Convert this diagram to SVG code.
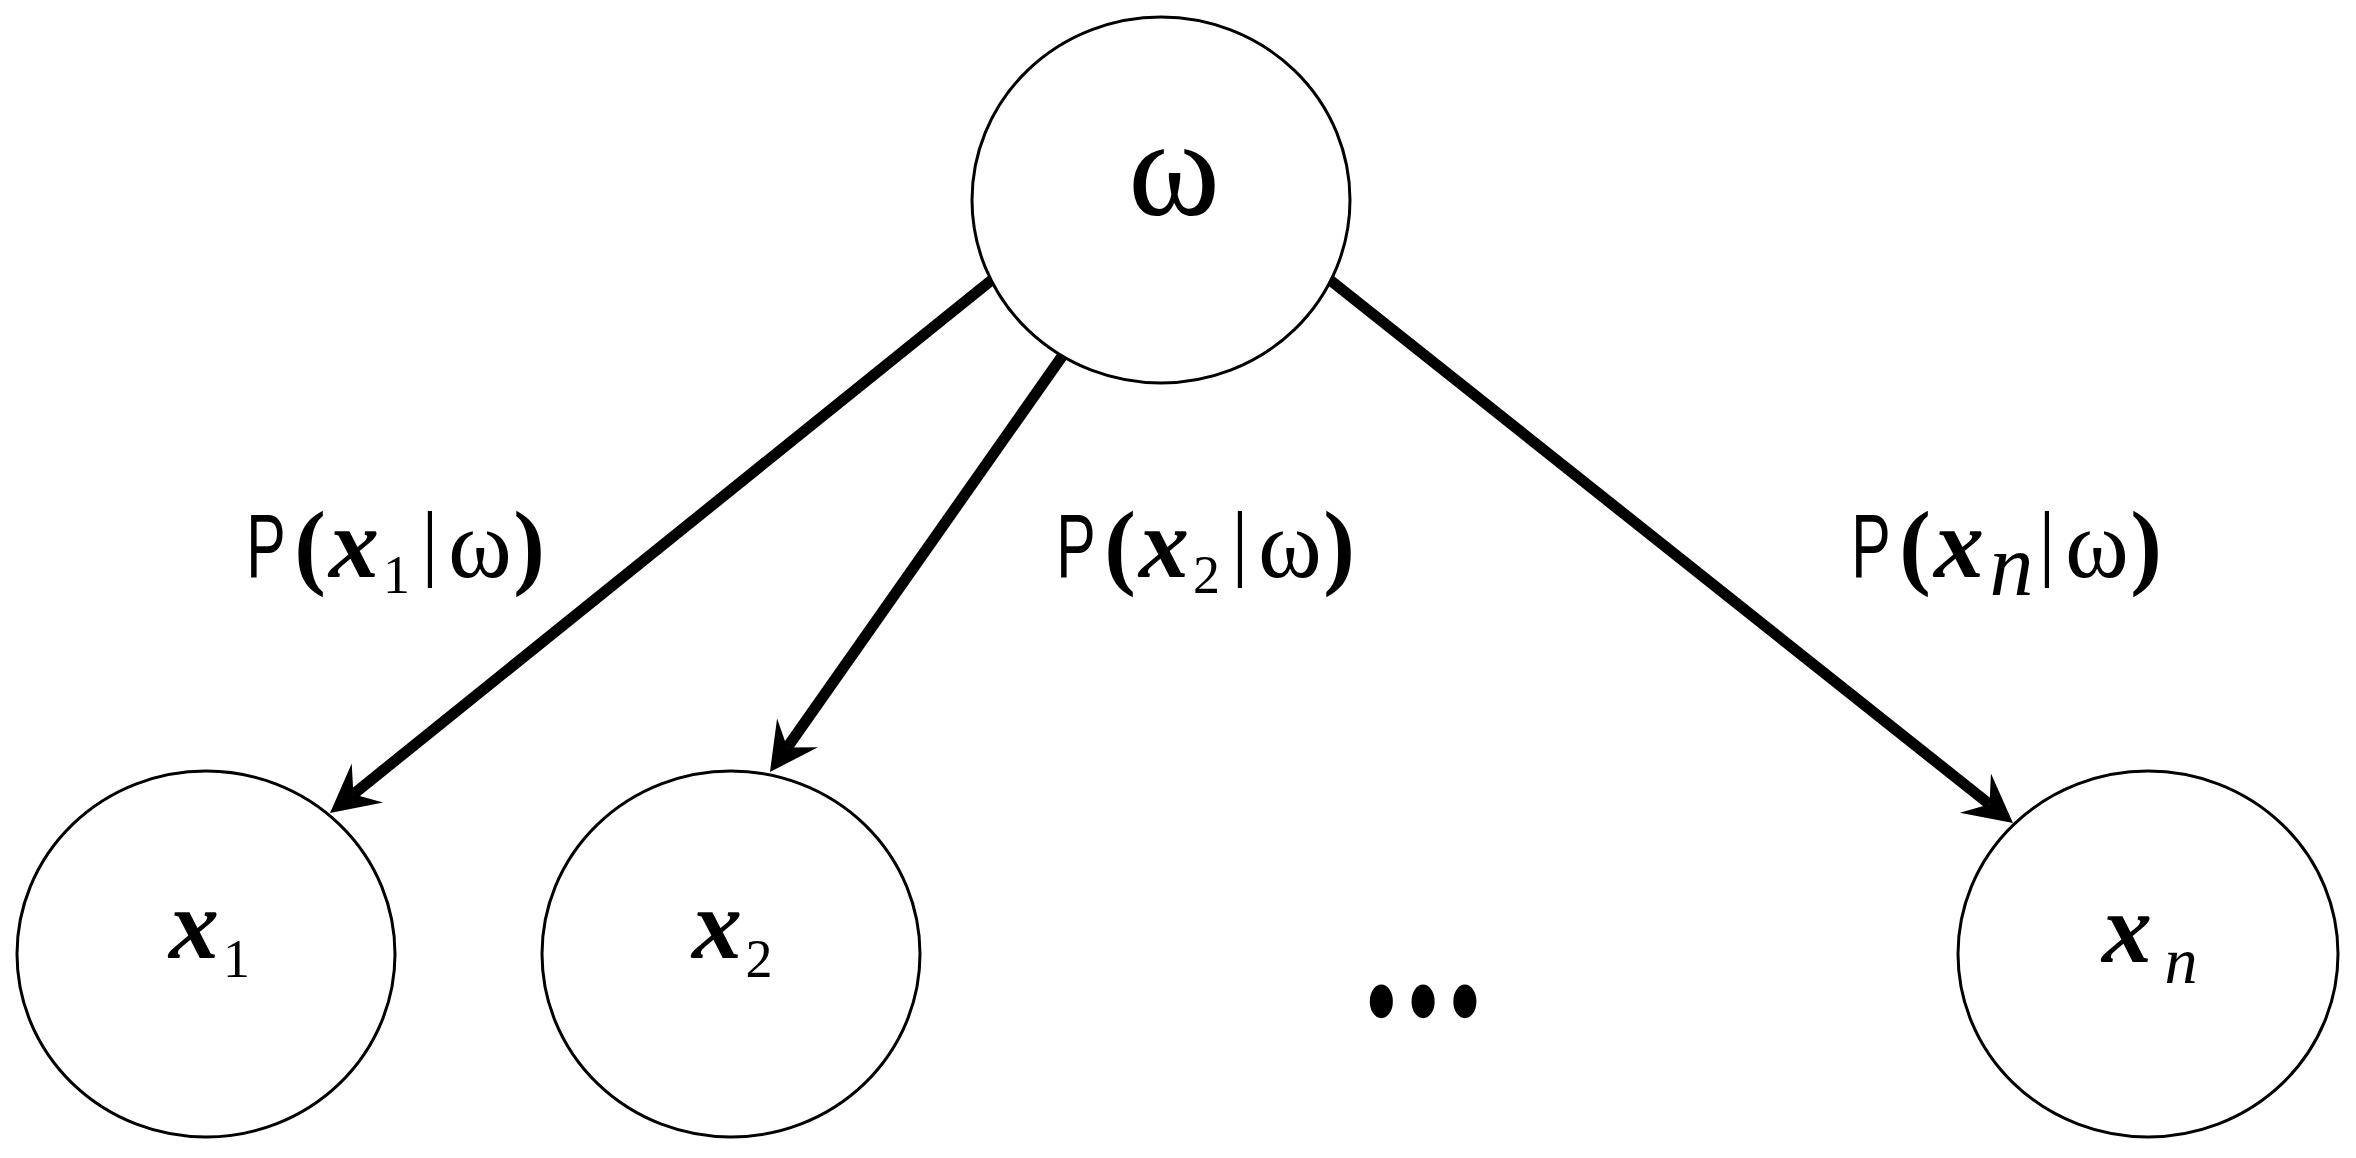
<svg xmlns="http://www.w3.org/2000/svg" width="2356" height="1158" viewBox="0 0 2356 1158">
<style>
.node{fill:#fff;stroke:#000;stroke-width:3}
.edge{stroke:#000;stroke-width:11;fill:none;marker-end:url(#arr)}
.t{font-family:"Liberation Serif","Times New Roman",serif;fill:#000;text-anchor:middle}
.bi{font-weight:bold;font-style:italic;font-size:100px}
.it{font-style:italic}
.pb{font-weight:bold;font-size:95px}
.om{font-size:97px}
.sub{font-size:54px}
.P{font-family:"Liberation Sans",Arial,sans-serif;font-size:91px;fill:#000;text-anchor:middle}
.bar{font-size:84px}
</style>
<defs>
<marker id="arr" markerUnits="userSpaceOnUse" orient="auto" refX="0" refY="0" markerWidth="60" markerHeight="60" viewBox="-20 -30 60 60" overflow="visible">
<path d="M30,0 L-18,-25 L0,0 L-18,25 Z" fill="#000"/>
</marker>
</defs>
<rect width="2356" height="1158" fill="#fff"/>
<g id="connectors">
<line class="edge" x1="991.7" y1="280" x2="353.4" y2="794.2"/>
<line class="edge" x1="1063" y1="355" x2="787.2" y2="747.5"/>
<line class="edge" x1="1330" y1="280" x2="1989.5" y2="804.3"/>
</g>
<g id="node-omega">
<ellipse class="node" cx="1161" cy="200" rx="189" ry="183"/>
<text class="t" x="1174" y="215" font-size="140">ω</text>
</g>
<g id="node-x1">
<ellipse class="node" cx="206" cy="954" rx="189" ry="183"/>
<text class="t bi" x="194" y="958">x</text>
<text class="t sub" x="236.5" y="977">1</text>
</g>
<g id="node-x2">
<ellipse class="node" cx="731" cy="954" rx="189" ry="183"/>
<text class="t bi" x="717" y="958">x</text>
<text class="t sub" x="759" y="977">2</text>
</g>
<g id="node-xn">
<ellipse class="node" cx="2148" cy="954" rx="190" ry="183"/>
<text class="t bi" x="2127" y="962">x</text>
<text class="t it" x="2181" y="983" font-size="66">n</text>
</g>
<g id="ellipsis">
<text class="t" font-weight="bold" font-size="124" stroke="#000" stroke-width="3" x="0" y="9" transform="translate(1423,1000) scale(1,1.45)">…</text>
</g>
<g id="label-1">
<text class="P" transform="translate(266,577) scale(0.65,1)">P</text>
<text class="t pb" x="310" y="577">(</text>
<text class="t bi" x="354" y="577">x</text>
<text class="t sub" x="396.5" y="593">1</text>
<text class="t bar" x="430" y="570">|</text>
<text class="t om" x="480" y="577">ω</text>
<text class="t pb" x="529" y="577">)</text>
</g>
<g id="label-2">
<text class="P" transform="translate(1076,577) scale(0.65,1)">P</text>
<text class="t pb" x="1120" y="577">(</text>
<text class="t bi" x="1164" y="577">x</text>
<text class="t sub" x="1206.5" y="593">2</text>
<text class="t bar" x="1240" y="570">|</text>
<text class="t om" x="1290" y="577">ω</text>
<text class="t pb" x="1339" y="577">)</text>
</g>
<g id="label-n">
<text class="P" transform="translate(1871,577) scale(0.65,1)">P</text>
<text class="t pb" x="1915" y="577">(</text>
<text class="t bi" x="1959" y="577">x</text>
<text class="t it" x="2011.5" y="595" font-size="88">n</text>
<text class="t bar" x="2047" y="570">|</text>
<text class="t om" x="2097" y="577">ω</text>
<text class="t pb" x="2146" y="577">)</text>
</g>
</svg>
